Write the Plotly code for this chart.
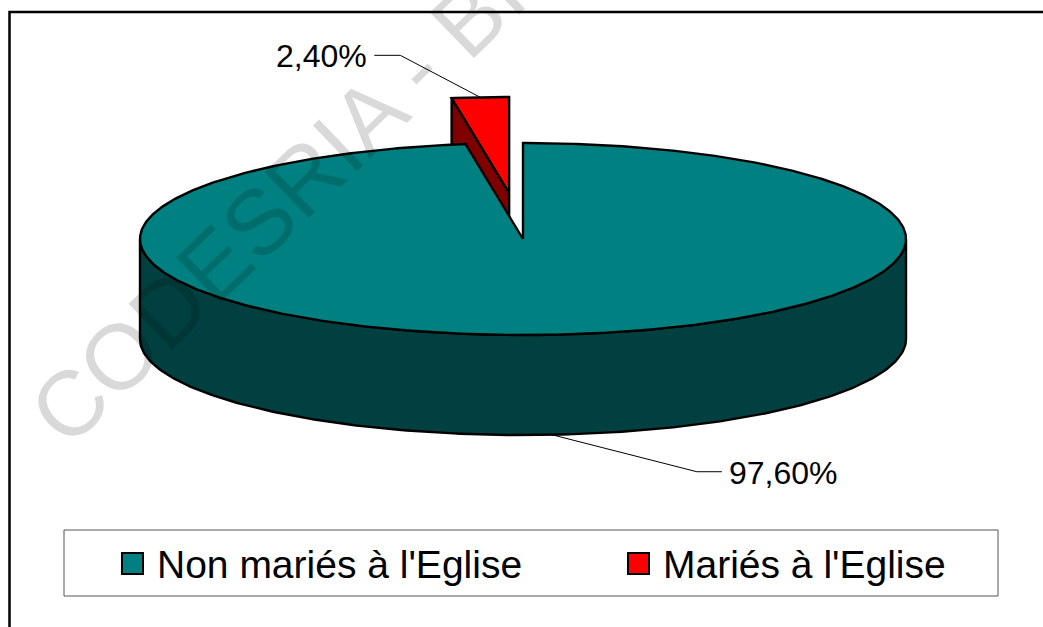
import numpy as np
import plotly.graph_objects as go

# ---------------- data ----------------
categories = ["Non mariés à l'Eglise", "Mariés à l'Eglise"]
values = [97.6, 2.4]
value_labels = ["97,60%", "2,40%"]
top_colors = ["#008080", "#FF0000"]
side_colors = ["#004040", "#800000"]
explode = [0.0, 0.48]

# ---------------- layout / geometry (styling) ----------------
W, H = 1043, 627
CX, CY, RX, RY, DEPTH = 523, 239, 383, 96, 100
FONT = "Arial, Liberation Sans, sans-serif"


def pt(theta, ox=0.0, oy=0.0, dz=0.0):
    t = np.radians(theta)
    return CX + ox + RX * np.sin(t), CY + oy - RY * np.cos(t) + dz


total = float(sum(values))
slices = []
cum = 0.0
for i, v in enumerate(values):
    s = 360.0 * cum / total
    e = 360.0 * (cum + v) / total
    m = (s + e) / 2
    ox = explode[i] * RX * np.sin(np.radians(m))
    oy = -explode[i] * RY * np.cos(np.radians(m))
    slices.append(dict(i=i, s=s, e=e, m=m, ox=ox, oy=oy))
    cum += v

fig = go.Figure()


def poly(xs, ys, color):
    fig.add_trace(go.Scatter(
        x=list(xs) + [xs[0]], y=list(ys) + [ys[0]], mode="lines", fill="toself",
        fillcolor=color, line=dict(color="black", width=2.4),
        hoverinfo="skip", showlegend=False))


# painter order: back slices first
order = sorted(slices, key=lambda d: -np.cos(np.radians(d["m"])))
for d in order:
    i, s, e, ox, oy = d["i"], d["s"], d["e"], d["ox"], d["oy"]
    c = (CX + ox, CY + oy)
    # cut faces
    for th, vis in ((s, np.sin(np.radians(s)) < -1e-6), (e, np.sin(np.radians(e)) > 1e-6)):
        if vis:
            p = pt(th, ox, oy)
            xs = [c[0], p[0], p[0], c[0]]
            ys = [c[1], p[1], p[1] + DEPTH, c[1] + DEPTH]
            poly(xs, ys, side_colors[i])
    # outer wall (front half)
    ws, we = max(s, 90.0), min(e, 270.0)
    if we > ws:
        th = np.linspace(ws, we, 200)
        top = [pt(t, ox, oy) for t in th]
        bot = [pt(t, ox, oy, DEPTH) for t in th[::-1]]
        xs = [p[0] for p in top] + [p[0] for p in bot]
        ys = [p[1] for p in top] + [p[1] for p in bot]
        poly(xs, ys, side_colors[i])
    # top face
    th = np.linspace(s, e, max(int((e - s) * 2), 4))
    arc = [pt(t, ox, oy) for t in th]
    xs = [c[0]] + [p[0] for p in arc]
    ys = [c[1]] + [p[1] for p in arc]
    poly(xs, ys, top_colors[i])

# ---------------- data labels with leader lines ----------------
label_style = {
    0: dict(elbow=(145, 37), end=(170, 37), anchor="left"),
    1: dict(elbow=(-80, -42), end=(-106, -42), anchor="right"),
}
annotations = []
for d in slices:
    i = d["i"]
    m = d["m"]
    if np.cos(np.radians(m)) < 0:  # front: anchor on the bottom rim
        ax, ay = pt(m, d["ox"], d["oy"], DEPTH)
    else:
        ax, ay = pt(m, d["ox"], d["oy"])
    st = label_style[i]
    ex, ey = ax + st["elbow"][0], ay + st["elbow"][1]
    tx, ty = ax + st["end"][0], ay + st["end"][1]
    fig.add_trace(go.Scatter(x=[ax, ex, tx], y=[ay, ey, ty], mode="lines",
                             line=dict(color="black", width=1),
                             hoverinfo="skip", showlegend=False))
    annotations.append(dict(
        x=tx + (5 if st["anchor"] == "left" else -5), y=ty + 1, xref="x", yref="y",
        text=value_labels[i], showarrow=False, xanchor=st["anchor"], yanchor="middle",
        font=dict(family=FONT, size=32, color="black")))

# ---------------- legend (drawn manually) ----------------
shapes = []
shapes.append(dict(type="rect", xref="x", yref="y", x0=64, y0=530, x1=998, y1=596,
                   line=dict(color="#555555", width=1), fillcolor="white", layer="below"))
leg_x = [122, 628]
for i, cat in enumerate(categories):
    shapes.append(dict(type="rect", xref="x", yref="y", x0=leg_x[i], y0=553,
                       x1=leg_x[i] + 21, y1=574, fillcolor=top_colors[i],
                       line=dict(color="black", width=2)))
    annotations.append(dict(x=leg_x[i] + 33, y=564, xref="x", yref="y", text=cat,
                            showarrow=False, xanchor="left", yanchor="middle",
                            font=dict(family=FONT, size=39, color="black")))

# chart border
shapes.append(dict(type="path", xref="x", yref="y",
                   path="M 9.5 700 L 9.5 12 L 1100 12",
                   line=dict(color="black", width=2.5)))

# watermark
annotations.append(dict(x=490 / W, y=1 + 2 / H, xref="paper", yref="paper",
                        text="CODESRIA - BIBLIOTHEQUE", showarrow=False,
                        textangle=-44, xanchor="center", yanchor="middle",
                        font=dict(family=FONT, size=92, color="rgba(0,0,0,0.15)")))

fig.update_layout(
    width=W, height=H, margin=dict(l=0, r=0, t=0, b=0),
    paper_bgcolor="white", plot_bgcolor="white",
    xaxis=dict(range=[0, W], visible=False, fixedrange=True),
    yaxis=dict(range=[H, 0], visible=False, fixedrange=True),
    shapes=shapes, annotations=annotations, showlegend=False,
)

fig.write_html("out.html", config={"displayModeBar": False},
               post_script="document.body.style.margin='0';document.body.style.overflow='hidden';")
